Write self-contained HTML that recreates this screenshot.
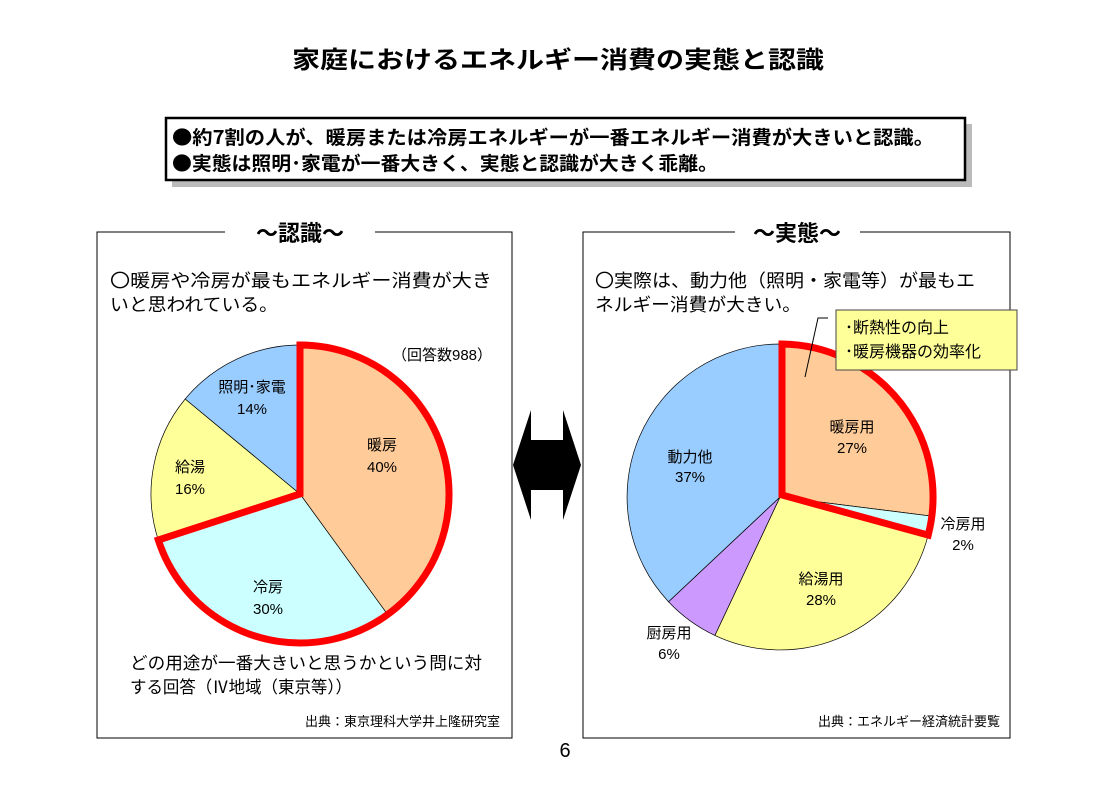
<!DOCTYPE html>
<html><head><meta charset="utf-8"><style>
html,body{margin:0;padding:0;background:#fff;}
svg text{font-family:"Liberation Sans","Noto Sans CJK JP",sans-serif;}
.j{font-family:"Noto Sans CJK JP",sans-serif;}
</style></head><body>
<svg width="1115" height="790" viewBox="0 0 1115 790" xmlns="http://www.w3.org/2000/svg">
<rect width="1115" height="790" fill="#fff"/>
<text x="558" y="68" font-size="24" font-weight="bold" text-anchor="middle" textLength="532" lengthAdjust="spacingAndGlyphs">家庭におけるエネルギー消費の実態と認識</text>
<!-- summary box -->
<rect x="172" y="124" width="800" height="63" fill="#bbb"/>
<rect x="166" y="118" width="799" height="62" fill="#fff" stroke="#000" stroke-width="2.5"/>
<text class="j" x="172" y="144" font-size="19" font-weight="bold" textLength="762" lengthAdjust="spacingAndGlyphs">●約7割の人が、暖房または冷房エネルギーが一番エネルギー消費が大きいと認識。</text>
<text class="j" x="172" y="170" font-size="19" font-weight="bold" textLength="546" lengthAdjust="spacingAndGlyphs">●実態は照明･家電が一番大きく、実態と認識が大きく乖離。</text>
<!-- left panel -->
<path d="M225 232 H97 V738 H512 V232 H375" fill="none" stroke="#000" stroke-width="1"/>
<text class="j" x="300" y="241" font-size="22" font-weight="bold" text-anchor="middle">～認識～</text>
<text x="110" y="287" font-size="18" textLength="382" lengthAdjust="spacingAndGlyphs">〇暖房や冷房が最もエネルギー消費が大き</text>
<text x="110" y="311" font-size="18" textLength="168" lengthAdjust="spacingAndGlyphs">いと思われている。</text>
<text x="392" y="360" font-size="15">（回答数988）</text>
<path d="M300 494 L300 345 A149 149 0 0 1 387.6 614.5 Z" fill="#FFCC99" stroke="#000" stroke-width="0.7"/>
<path d="M300 494 L387.6 614.5 A149 149 0 0 1 158.3 540 Z" fill="#CCFFFF" stroke="#000" stroke-width="0.7"/>
<path d="M300 494 L158.3 540 A149 149 0 0 1 185.2 399 Z" fill="#FFFF99" stroke="#000" stroke-width="0.7"/>
<path d="M300 494 L185.2 399 A149 149 0 0 1 300 345 Z" fill="#99CCFF" stroke="#000" stroke-width="0.7"/>
<path d="M300 494 L300 345 A149 149 0 1 1 158.3 540 Z" fill="none" stroke="#f00" stroke-width="7" stroke-linejoin="miter"/>
<g font-size="15" text-anchor="middle">
<text x="382" y="450">暖房</text><text x="382" y="472">40%</text>
<text x="268" y="592">冷房</text><text x="268" y="614">30%</text>
<text x="190" y="472">給湯</text><text x="190" y="494">16%</text>
<text x="252" y="392">照明･家電</text><text x="252" y="414">14%</text>
</g>
<text x="130" y="669" font-size="17" textLength="352" lengthAdjust="spacingAndGlyphs">どの用途が一番大きいと思うかという問に対</text>
<text x="130" y="693" font-size="17" textLength="222" lengthAdjust="spacingAndGlyphs">する回答（Ⅳ地域（東京等））</text>
<text x="500" y="726" font-size="13" text-anchor="end">出典：東京理科大学井上隆研究室</text>
<!-- arrow -->
<path d="M513 465 L531 410 V440 H563 V410 L581 465 L563 520 V490 H531 V520 Z" fill="#000"/>
<!-- right panel -->
<path d="M735 232 H583 V738 H1010 V232 H860" fill="none" stroke="#000" stroke-width="1"/>
<text class="j" x="797" y="241" font-size="22" font-weight="bold" text-anchor="middle">～実態～</text>
<text x="595" y="287" font-size="18" textLength="380" lengthAdjust="spacingAndGlyphs">〇実際は、動力他（照明・家電等）が最もエ</text>
<text x="595" y="311" font-size="18" textLength="206" lengthAdjust="spacingAndGlyphs">ネルギー消費が大きい。</text>
<path d="M780 497 L780 344 A153 153 0 0 1 931.8 516.2 Z" fill="#FFCC99" stroke="#000" stroke-width="0.7"/>
<path d="M780 497 L931.8 516.2 A153 153 0 0 1 928.2 535.1 Z" fill="#CCFFFF" stroke="#000" stroke-width="0.7"/>
<path d="M780 497 L928.2 535.1 A153 153 0 0 1 714.9 635.4 Z" fill="#FFFF99" stroke="#000" stroke-width="0.7"/>
<path d="M780 497 L714.9 635.4 A153 153 0 0 1 668.5 601.7 Z" fill="#CC99FF" stroke="#000" stroke-width="0.7"/>
<path d="M780 497 L668.5 601.7 A153 153 0 0 1 780 344 Z" fill="#99CCFF" stroke="#000" stroke-width="0.7"/>
<path d="M782 495 L782 344 A153 153 0 0 1 928.2 535.1 Z" fill="none" stroke="#f00" stroke-width="7"/>
<g font-size="15" text-anchor="middle">
<text x="852" y="432">暖房用</text><text x="852" y="453">27%</text>
<text x="690" y="462">動力他</text><text x="690" y="482">37%</text>
<text x="821" y="584">給湯用</text><text x="821" y="605">28%</text>
<text x="669" y="638">厨房用</text><text x="669" y="659">6%</text>
<text x="963" y="529">冷房用</text><text x="963" y="550">2%</text>
</g>
<path d="M828 318 L818 318 L805 377" fill="none" stroke="#000" stroke-width="1"/>
<rect x="836" y="310" width="181" height="60" fill="#FFFF99" stroke="#444" stroke-width="1"/>
<text x="845" y="333" font-size="16">･断熱性の向上</text>
<text x="845" y="357" font-size="16">･暖房機器の効率化</text>
<text x="1000" y="726" font-size="13" text-anchor="end">出典：エネルギー経済統計要覧</text>
<text x="565" y="757" font-size="20" text-anchor="middle">6</text>
</svg>
</body></html>
